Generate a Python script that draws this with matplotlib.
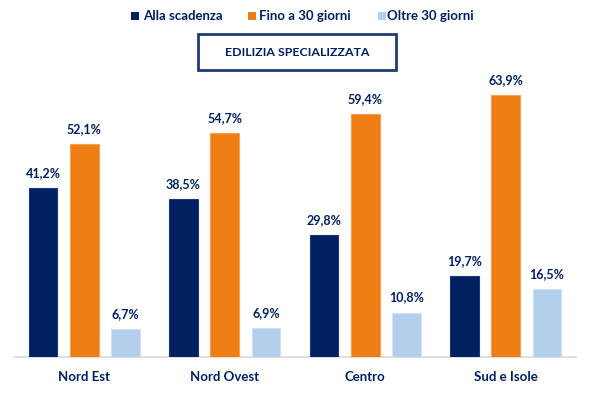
import matplotlib
matplotlib.use("Agg")
import matplotlib.pyplot as plt
import numpy as np
from matplotlib.patches import Rectangle

categories = ["Nord Est", "Nord Ovest", "Centro", "Sud e Isole"]
series_names = ["Alla scadenza", "Fino a 30 giorni", "Oltre 30 giorni"]
alla_scadenza = [41.2, 38.5, 29.8, 19.7]
fino_30 = [52.1, 54.7, 59.4, 63.9]
oltre_30 = [6.7, 6.9, 10.8, 16.5]
title = "EDILIZIA SPECIALIZZATA"

NAVY = "#002060"
ORANGE = "#EE7D14"
LIGHT = "#B3CFEC"
colors = [NAVY, ORANGE, LIGHT]
edges = ["#1a3a78", "#F5A053", "#CFE2F6"]

plt.rcParams['font.family'] = ['Lato', 'DejaVu Sans']

fig = plt.figure(figsize=(5.94, 3.93), dpi=100)
W, H = 594, 393
ax_left, ax_right = 14, 576
base_y = 356.7
ppu = 4.09
ymax = 70
ax_top = base_y - ppu * ymax
ax = fig.add_axes([ax_left / W, (H - base_y) / H, (ax_right - ax_left) / W, (base_y - ax_top) / H])

x = np.arange(len(categories))
step = 0.294
width = 0.204
all_series = [alla_scadenza, fino_30, oltre_30]
for i, (vals, c, ec) in enumerate(zip(all_series, colors, edges)):
    bars = ax.bar(x + (i - 1) * step, vals, width=width, color=c, edgecolor=ec, linewidth=0.8, zorder=3)
    for b, v in zip(bars, vals):
        ax.annotate(f"{v:.1f}%".replace(".", ","), (b.get_x() + b.get_width() / 2, v),
                    xytext=(0, 6.5), textcoords="offset points", ha="center", va="bottom",
                    fontsize=9, fontweight="bold", color=NAVY, annotation_clip=False)

ax.set_xlim(-0.5, len(categories) - 0.5)
ax.set_ylim(0, ymax)
for s in ["top", "right", "left"]:
    ax.spines[s].set_visible(False)
ax.spines["bottom"].set_color("#D9D9D9")
ax.spines["bottom"].set_linewidth(1.2)
ax.set_yticks([])
ax.set_xticks(x)
ax.set_xticklabels(categories, fontsize=9.5, fontweight="bold", color=NAVY)
ax.tick_params(axis="x", length=0, pad=10)

# Legend
leg_items = [(130.7, 142.7), (247.7, 259.0), (377.7, 386.7)]
for (sx, tx), c, name in zip(leg_items, colors, series_names):
    fig.patches.append(Rectangle((sx / W, (H - 19.5) / H), 8 / W, 8 / H, transform=fig.transFigure,
                                 facecolor=c, edgecolor="none"))
    fig.text(tx / W, (H - 15.5) / H, name, ha="left", va="center", fontsize=9.5,
             fontweight="bold", color=NAVY)

# Title box
fig.patches.append(Rectangle((198 / W, (H - 70) / H), 198 / W, 35.5 / H, transform=fig.transFigure,
                             facecolor="white", edgecolor="#1F3C6E", linewidth=2))
fig.text(297 / W, (H - 52) / H, title, ha="center", va="center", fontsize=8.9,
         fontweight="bold", color=NAVY)

fig.savefig("out.png", dpi=100)
